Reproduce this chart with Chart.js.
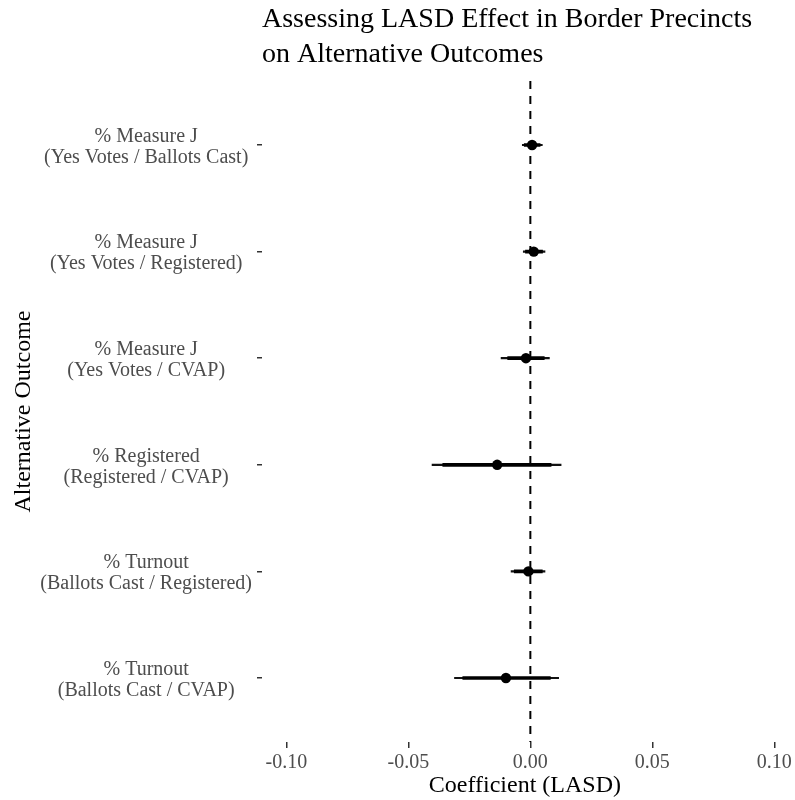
<!DOCTYPE html>
<html>
<head>
<meta charset="utf-8">
<script src="https://cdn.jsdelivr.net/npm/chart.js@4.4.1/dist/chart.umd.min.js"></script>
<style>
  body { margin: 0; background: #fff; }
</style>
</head>
<body>
<canvas id="coef-chart" width="795" height="800"></canvas>
<script>
const outcomes = [
    ['% Measure J', '(Yes Votes / Ballots Cast)'],
    ['% Measure J', '(Yes Votes / Registered)'],
    ['% Measure J', '(Yes Votes / CVAP)'],
    ['% Registered', '(Registered / CVAP)'],
    ['% Turnout', '(Ballots Cast / Registered)'],
    ['% Turnout', '(Ballots Cast / CVAP)'],
];
const estimates = [0.0007, 0.0014, -0.0018, -0.0136, -0.0008, -0.0100];
const ci95Low = [-0.0033, -0.0029, -0.0120, -0.0403, -0.0079, -0.0311];
const ci95High = [0.0049, 0.0060, 0.0078, 0.0126, 0.0060, 0.0116];
const ci90Low = [-0.0025, -0.0020, -0.0093, -0.0359, -0.0066, -0.0277];
const ci90High = [0.0040, 0.0050, 0.0057, 0.0085, 0.0049, 0.0082];
const xTicks = [-0.10, -0.05, 0.00, 0.05, 0.10];

const serif = 'Liberation Serif';
const ctx = document.getElementById('coef-chart').getContext('2d');

new Chart(ctx, {
    type: 'bar',
    data: {
        datasets: [
            {
                type: 'line',
                data: [{x: 0, y: -0.6}, {x: 0, y: outcomes.length - 0.4}],
                borderColor: '#000',
                borderWidth: 2,
                borderDash: [8, 7],
                pointRadius: 0,
                order: 0,
            },
            {
                type: 'scatter',
                data: estimates.map((v, i) => ({x: v, y: i})),
                backgroundColor: '#000',
                borderWidth: 0,
                pointRadius: 5.2,
                order: 1,
            },
            {
                indexAxis: 'y',
                grouped: false,
                data: ci90Low.map((v, i) => ({x: [v, ci90High[i]], y: i})),
                backgroundColor: '#000',
                barThickness: 3,
                order: 2,
            },
            {
                indexAxis: 'y',
                grouped: false,
                data: ci95Low.map((v, i) => ({x: [v, ci95High[i]], y: i})),
                backgroundColor: '#111',
                barThickness: 1.5,
                order: 3,
            },
        ]
    },
    options: {
        indexAxis: 'y',
        responsive: false,
        animation: false,
        layout: {
            padding: 0,
        },
        plugins: {
            legend: {
                display: false,
            },
            tooltip: {
                enabled: false,
            },
            title: {
                display: true,
                fullSize: false,
                align: 'start',
                text: ['Assessing LASD Effect in Border Precincts', 'on Alternative Outcomes'],
                color: '#000',
                font: {family: serif, size: 28, weight: 'normal', lineHeight: 1.25},
                padding: {top: 2, bottom: 9},
            },
        },
        scales: {
            x: {
                type: 'linear',
                min: -0.110,
                max: 0.1055,
                beginAtZero: false,
                offset: false,
                afterBuildTicks: (axis) => {
                    axis.ticks = xTicks.map(v => ({value: v}));
                },
                afterFit: (axis) => {
                    axis.height = 58;
                },
                grid: {
                    drawOnChartArea: false,
                    offset: false,
                    tickLength: 6,
                    color: '#333',
                    lineWidth: 1.5,
                },
                border: {
                    display: false,
                },
                ticks: {
                    color: '#4d4d4d',
                    padding: 3,
                    maxRotation: 0,
                    font: {family: serif, size: 20},
                    callback: (v) => v.toFixed(2),
                },
                title: {
                    display: true,
                    text: 'Coefficient (LASD)',
                    color: '#000',
                    font: {family: serif, size: 24},
                    padding: {top: 0, bottom: 0},
                },
            },
            y: {
                type: 'linear',
                reverse: true,
                min: -0.6,
                max: outcomes.length - 0.4,
                offset: false,
                afterBuildTicks: (axis) => {
                    axis.ticks = outcomes.map((o, i) => ({value: i}));
                },
                afterFit: (axis) => {
                    axis.width = 262;
                },
                grid: {
                    drawOnChartArea: false,
                    offset: false,
                    tickLength: 5,
                    color: '#333',
                    lineWidth: 1.5,
                },
                border: {
                    display: false,
                },
                ticks: {
                    color: '#4d4d4d',
                    padding: 5,
                    labelOffset: 2,
                    crossAlign: 'center',
                    font: {family: serif, size: 20, lineHeight: 1.05},
                    callback: (v) => outcomes[v],
                },
                title: {
                    display: true,
                    text: 'Alternative Outcome',
                    color: '#000',
                    font: {family: serif, size: 24},
                    padding: {top: 9, bottom: 0},
                },
            },
        },
    },
});
</script>
</body>
</html>
